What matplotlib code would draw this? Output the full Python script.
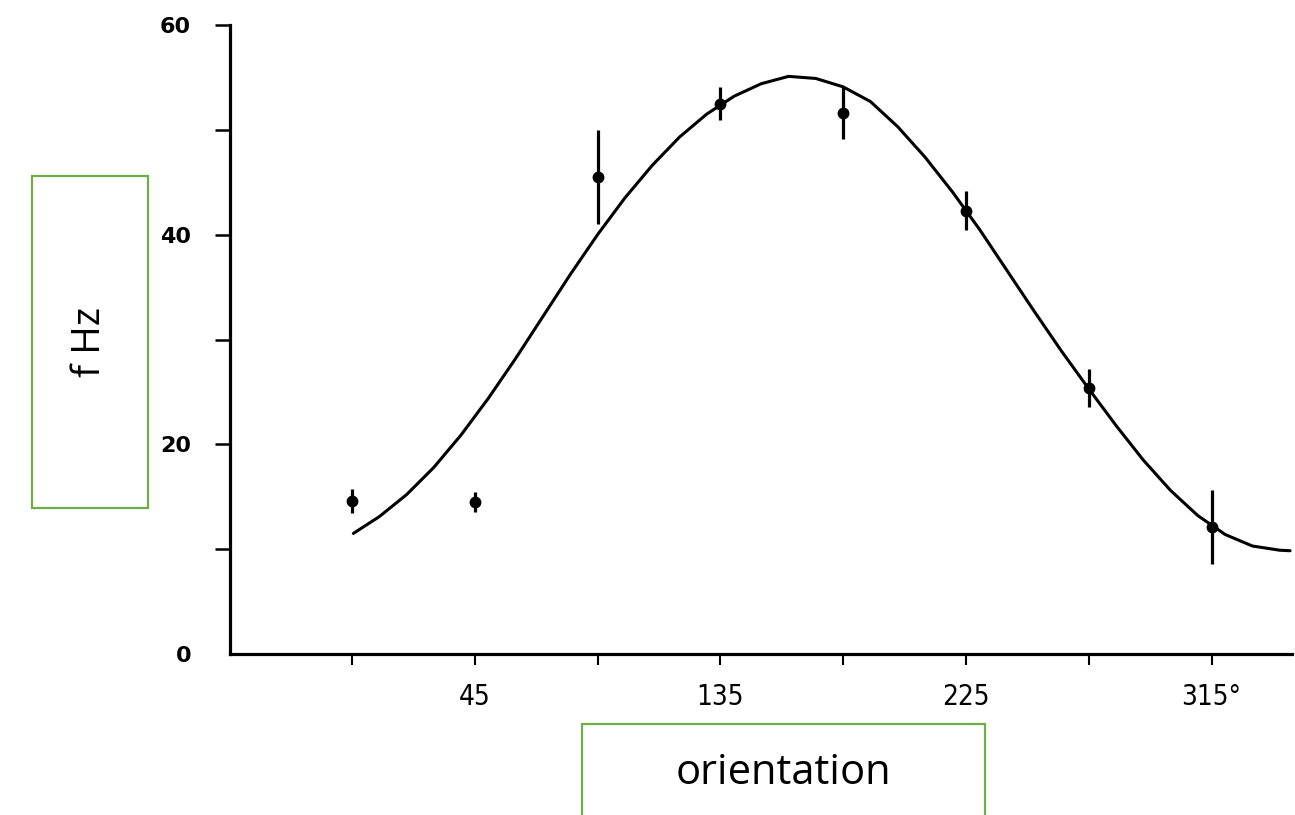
import matplotlib
matplotlib.use("Agg")
import matplotlib.pyplot as plt
from matplotlib.patches import Rectangle

# Measured responses (orientation in degrees, firing rate in Hz)
orient = [0, 45, 90, 135, 180, 225, 270, 315]
rate = [14.6, 14.5, 45.5, 52.5, 51.6, 42.3, 25.4, 12.1]
rate_err = [1.15, 1.0, 4.5, 1.6, 2.5, 1.9, 1.8, 3.5]

# Fitted tuning curve
curve_x = [0.5, 10, 20, 30, 40, 50, 60, 70, 80, 90, 100, 110, 120, 130, 140,
           150, 160, 170, 180, 190, 200, 210, 220, 230, 240, 250, 260, 270,
           280, 290, 300, 310, 320, 330, 340, 343.8]
curve_y = [11.5, 13.1, 15.2, 17.8, 20.9, 24.4, 28.2, 32.2, 36.2, 40.0, 43.5,
           46.6, 49.3, 51.5, 53.2, 54.4, 55.1, 54.9, 54.1, 52.7, 50.3, 47.4,
           44.1, 40.5, 36.6, 32.7, 28.9, 25.3, 21.8, 18.5, 15.6, 13.2, 11.4,
           10.3, 9.9, 9.85]

xtick_pos = [0, 45, 90, 135, 180, 225, 270, 315]
xtick_labels = ["", "45", "", "135", "", "225", "", "315°"]
ytick_pos = [0, 10, 20, 30, 40, 50, 60]
ytick_labels = ["0", "", "20", "", "40", "", "60"]

W, H = 1295, 815
fig = plt.figure(figsize=(W / 100, H / 100), dpi=100)
ax = fig.add_axes([230 / W, (H - 654) / H, 1062 / W, (654 - 25) / H])

ax.plot(curve_x, curve_y, color="black", lw=2.2, solid_joinstyle="round",
        solid_capstyle="round")
ax.errorbar(orient, rate, yerr=rate_err, fmt="o", color="black",
            ms=7.5, elinewidth=2.3, capsize=0)

ax.set_xlim(-44.7, 344.5)
ax.set_ylim(0, 60)
for s in ["top", "right"]:
    ax.spines[s].set_visible(False)
for s in ["left", "bottom"]:
    ax.spines[s].set_linewidth(2.3)

ax.set_xticks(xtick_pos)
ax.set_xticklabels(xtick_labels, fontfamily="DejaVu Sans",
                   fontstretch="condensed", fontsize=20)
ax.set_yticks(ytick_pos)
ax.set_yticklabels(ytick_labels, fontfamily="DejaVu Sans", fontweight="bold",
                   fontsize=16)
ax.tick_params(axis="x", direction="out", length=8, width=1.5, pad=13)
ax.tick_params(axis="y", direction="out", length=11, width=1.8, pad=17)
ax.yaxis.get_major_ticks()[0].tick1line.set_visible(False)

green = "#70AD47"
fig.add_artist(Rectangle((32 / W, (H - 508) / H), 116 / W, 332 / H,
                         transform=fig.transFigure, fill=False,
                         edgecolor=green, lw=1.6))
fig.add_artist(Rectangle((582 / W, -0.05), 403 / W, (H - 724) / H + 0.05,
                         transform=fig.transFigure, fill=False,
                         edgecolor=green, lw=1.6, clip_on=False))
fig.text(90 / W, (H - 342) / H, "f Hz", rotation=90, ha="center", va="center",
         fontsize=28, fontfamily="Open Sans")
fig.text(783 / W, (H - 773) / H, "orientation", ha="center", va="center",
         fontsize=30, fontfamily="Open Sans")

fig.savefig("out.png", dpi=100)
